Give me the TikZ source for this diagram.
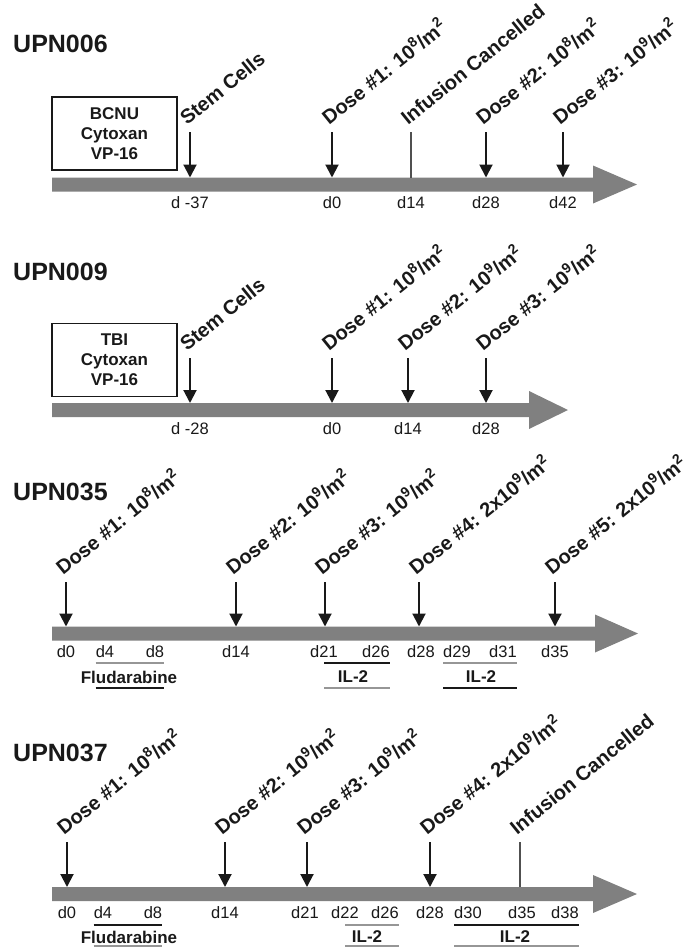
\documentclass[tikz,border=0pt]{standalone}
\usepackage{fontspec}
\setmainfont{Liberation Sans}
\usetikzlibrary{arrows.meta, positioning}
\definecolor{shaftgrey}{RGB}{128,128,128}
\definecolor{bargrey}{RGB}{150,150,150}
\definecolor{boxgrey}{RGB}{80,80,80}
\definecolor{inkblack}{RGB}{25,25,25}

% dose in cells per m^2
\newcommand{\cellsperm}[1]{10\textsuperscript{#1}/m\textsuperscript{2}}
% grey time axis with head: name, y centre, head base x, tip x
\newcommand{\drawtimeline}[4]{%
  \fill[shaftgrey] (52,#2-7) -- (#3,#2-7) -- (#3,#2-19) -- (#4,#2)
    -- (#3,#2+19) -- (#3,#2+7) -- (52,#2+7) -- cycle;
  \coordinate (#1) at (52,#2-7);
}

\tikzset{
  ptitle/.style={anchor=west, inner sep=0pt, font=\fontsize{25}{30}\selectfont\bfseries, inkblack},
  regimen/.style={draw=boxgrey, line width=1.5pt, align=center, minimum width=125pt, minimum height=73pt, font=\fontsize{17}{20}\selectfont\bfseries, inkblack},
  evlabel/.style={rotate=39, anchor=base west, inner sep=0pt, font=\fontsize{20}{23}\selectfont\bfseries, inkblack},
  daylabel/.style={inner sep=0pt, font=\fontsize{16.5}{19}\selectfont, inkblack},
  barlabel/.style={inner sep=0pt, font=\fontsize{17}{20}\selectfont\bfseries, inkblack},
  dose/.style={-{Triangle[width=13pt,length=13pt]}, line width=2pt, inkblack},
  cancelled/.style={line width=2pt, boxgrey},
  greybar/.style={line width=2.5pt, bargrey},
  blackbar/.style={line width=2pt, inkblack},
}

\begin{document}
\begin{tikzpicture}[x=1pt, y=-1pt]
    \useasboundingbox (0,0) rectangle (685,948);

    % UPN006
    \node[ptitle] (upn006) at (13,44) {UPN006};
    \node[regimen] (reg006) at (114.5,133.5) {BCNU\\Cytoxan\\VP-16};
    \drawtimeline{tl006}{184.5}{593}{637}
    \foreach \x/\st/\lab [count=\i] in {190/dose/Stem Cells, 332/dose/{Dose \#1: \cellsperm{8}},
        411/cancelled/Infusion Cancelled, 486/dose/{Dose \#2: \cellsperm{8}}, 563/dose/{Dose \#3: \cellsperm{9}}} {
        \coordinate (ev006-\i) at (\x,132);
        \node[evlabel] (lb006-\i) at ([shift={(-3,-6)}]ev006-\i) {\lab};
        \draw[\st] (ev006-\i) -- (ev006-\i |- tl006);
    }
    \foreach \x/\d [count=\i] in {190/d -37, 332/d0, 411/d14, 486/d28, 563/d42}
        \node[daylabel] (dy006-\i) at (\x,203) {\d};

    % UPN009
    \node[ptitle] (upn009) at (13,272) {UPN009};
    \node[regimen] (reg009) at (114.5,360) {TBI\\Cytoxan\\VP-16};
    \drawtimeline{tl009}{410}{529}{568}
    \foreach \x/\st/\lab [count=\i] in {190/dose/Stem Cells, 332/dose/{Dose \#1: \cellsperm{8}},
        408/dose/{Dose \#2: \cellsperm{9}}, 486/dose/{Dose \#3: \cellsperm{9}}} {
        \coordinate (ev009-\i) at (\x,358);
        \node[evlabel] (lb009-\i) at ([shift={(-3,-6)}]ev009-\i) {\lab};
        \draw[\st] (ev009-\i) -- (ev009-\i |- tl009);
    }
    \foreach \x/\d [count=\i] in {190/d -28, 332/d0, 408/d14, 486/d28}
        \node[daylabel] (dy009-\i) at (\x,429) {\d};

    % UPN035
    \node[ptitle] (upn035) at (13,492) {UPN035};
    \drawtimeline{tl035}{633.5}{595}{638}
    \foreach \x/\st/\lab [count=\i] in {66/dose/{Dose \#1: \cellsperm{8}}, 236/dose/{Dose \#2: \cellsperm{9}},
        325/dose/{Dose \#3: \cellsperm{9}}, 419/dose/{Dose \#4: 2x\cellsperm{9}}, 555/dose/{Dose \#5: 2x\cellsperm{9}}} {
        \coordinate (ev035-\i) at (\x,582);
        \node[evlabel] (lb035-\i) at ([shift={(-3,-6)}]ev035-\i) {\lab};
        \draw[\st] (ev035-\i) -- (ev035-\i |- tl035);
    }
    \foreach \x/\d [count=\i] in {66/d0, 105/d4, 155/d8, 236/d14, 324/d21, 376/d26, 421/d28, 457/d29, 503/d31, 555/d35}
        \node[daylabel] (dy035-\i) at (\x,652) {\d};
    % treatment bars
    \coordinate (ub035) at (0,663);
    \coordinate (bb035) at (0,688);
    \draw[greybar] (dy035-2.west |- ub035) -- (dy035-3.east |- ub035);
    \node[barlabel] (flu035) at (129,677) {Fludarabine};
    \draw[blackbar] (dy035-2.west |- bb035) -- (dy035-3.east |- bb035);
    \draw[blackbar] (dy035-5 |- ub035) -- (dy035-6.east |- ub035);
    \node[barlabel] (il035a) at (353,677) {IL-2};
    \draw[greybar] (dy035-5 |- bb035) -- (dy035-6.east |- bb035);
    \draw[greybar] (dy035-8.west |- ub035) -- (dy035-9.east |- ub035);
    \node[barlabel] (il035b) at (481,677) {IL-2};
    \draw[blackbar] (dy035-8.west |- bb035) -- (dy035-9.east |- bb035);

    % UPN037
    \node[ptitle] (upn037) at (13,753) {UPN037};
    \drawtimeline{tl037}{894}{593}{637}
    \foreach \x/\st/\lab [count=\i] in {67/dose/{Dose \#1: \cellsperm{8}}, 225/dose/{Dose \#2: \cellsperm{9}},
        307/dose/{Dose \#3: \cellsperm{9}}, 430/dose/{Dose \#4: 2x\cellsperm{9}}, 520/cancelled/Infusion Cancelled} {
        \coordinate (ev037-\i) at (\x,842);
        \node[evlabel] (lb037-\i) at ([shift={(-3,-6)}]ev037-\i) {\lab};
        \draw[\st] (ev037-\i) -- (ev037-\i |- tl037);
    }
    \foreach \x/\d [count=\i] in {67/d0, 103/d4, 153/d8, 225/d14, 305/d21, 345/d22, 385/d26, 430/d28, 468/d30, 522/d35, 565/d38}
        \node[daylabel] (dy037-\i) at (\x,913) {\d};
    % treatment bars
    \coordinate (ub037) at (0,925);
    \coordinate (bb037) at (0,946);
    \draw[blackbar] (dy037-2.west |- ub037) -- (dy037-3.east |- ub037);
    \node[barlabel] (flu037) at (129,937) {Fludarabine};
    \draw[greybar] (dy037-2.west |- bb037) -- (dy037-3.east |- bb037);
    \draw[greybar] (dy037-6 |- ub037) -- (dy037-7.east |- ub037);
    \node[barlabel] (il037a) at (367,937) {IL-2};
    \draw[greybar] (dy037-6 |- bb037) -- (dy037-7.east |- bb037);
    \draw[blackbar] (dy037-9.west |- ub037) -- (dy037-11.east |- ub037);
    \node[barlabel] (il037b) at (515,937) {IL-2};
    \draw[greybar] (dy037-9.west |- bb037) -- (dy037-11.east |- bb037);
\end{tikzpicture}
\end{document}
